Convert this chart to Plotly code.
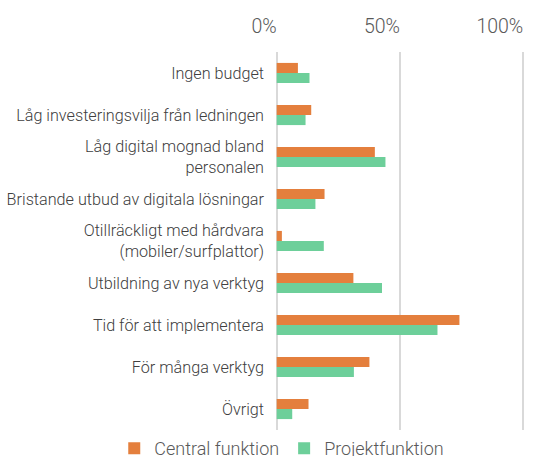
import plotly.graph_objects as go

categories = [
    "Ingen budget",
    "Låg investeringsvilja från ledningen",
    "Låg digital mognad bland<br>personalen",
    "Bristande utbud av digitala lösningar",
    "Otillräckligt med hårdvara<br>(mobiler/surfplattor)",
    "Utbildning av nya verktyg",
    "Tid för att implementera",
    "För många verktyg",
    "Övrigt",
]
central = [8.6, 14.0, 39.8, 19.4, 2.1, 31.1, 74.1, 37.6, 12.9]
projekt = [13.3, 11.7, 44.1, 15.7, 19.1, 42.7, 65.2, 31.3, 6.3]
tick_vals = [0, 50, 100]
tick_text = ["0%", "50%", "100%"]

FONT = "Roboto"
GRAY = "#595959"

fig = go.Figure()
fig.add_trace(go.Bar(y=categories, x=central, name="Central funktion", orientation="h",
                     marker=dict(color="#E47F3D", line=dict(width=0))))
fig.add_trace(go.Bar(y=categories, x=projekt, name="Projektfunktion", orientation="h",
                     marker=dict(color="#6DCF9A", line=dict(width=0))))

fig.update_layout(
    width=549, height=456,
    margin=dict(l=272.8, r=22, t=52, b=26, autoexpand=False),
    paper_bgcolor="white", plot_bgcolor="white",
    barmode="group", bargap=0.52, bargroupgap=0,
    font=dict(family=FONT, color=GRAY, size=16, weight=300),
    legend=dict(orientation="h", x=-0.625, xanchor="left",
                y=0, yanchor="top",
                font=dict(size=18, color=GRAY, family=FONT, weight=300),
                itemwidth=30, tracegroupgap=0),
    showlegend=True,
)
fig.update_xaxes(
    side="top", range=[-1.5, 101.5], tickvals=tick_vals, ticktext=tick_text,
    showgrid=True, gridcolor="#D9D9D9", gridwidth=2,
    zeroline=False, showline=False, automargin=False,
    ticklabelposition="outside left", ticklabelstandoff=14,
    tickfont=dict(size=19.5, color=GRAY, family=FONT, weight=300),
    fixedrange=True,
)
fig.update_yaxes(
    autorange="reversed", showgrid=False, zeroline=False, showline=False,
    ticks="", ticklabelstandoff=8, automargin=False,
    tickfont=dict(size=16.2, color="#404040", family=FONT, weight=300),
    fixedrange=True,
)
fig.write_html("out.html", config={"displayModeBar": False},
               post_script="document.body.style.margin='0';")
